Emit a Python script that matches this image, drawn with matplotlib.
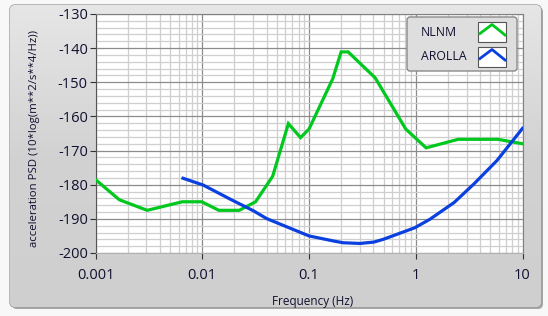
import matplotlib
matplotlib.use("Agg")
import matplotlib.pyplot as plt
import numpy as np
from matplotlib.patches import FancyBboxPatch, Rectangle
from matplotlib.colors import LinearSegmentedColormap
from matplotlib.ticker import FixedLocator, NullFormatter

plt.rcParams['font.family'] = ['Open Sans', 'DejaVu Sans']
plt.rcParams['axes.unicode_minus'] = False

# NLNM curve (Hz, dB)
nlnm_f = [0.001, 0.00167, 0.00305, 0.0065, 0.0099, 0.0143, 0.0222, 0.0316,
          0.0457, 0.0641, 0.0833, 0.1, 0.1667, 0.2, 0.2326, 0.417, 0.806,
          1.25, 2.5, 5.88, 10]
nlnm_db = [-178.5, -184.4, -187.5, -185.0, -185.0, -187.5, -187.5, -185.0,
           -177.5, -162.1, -166.2, -163.7, -149.0, -141.1, -141.1, -148.7,
           -163.7, -169.2, -166.7, -166.7, -168.0]

# AROLLA station curve
arolla_f = [0.0066, 0.0102, 0.0182, 0.030, 0.040, 0.1, 0.171, 0.209, 0.30,
            0.405, 0.496, 0.98, 1.36, 2.29, 3.5, 5.77, 10]
arolla_db = [-178.1, -180.1, -184.2, -187.6, -189.9, -195.0, -196.5, -197.0,
             -197.2, -196.8, -196.0, -192.6, -190.1, -185.2, -179.8, -172.9,
             -163.5]

y_ticks = [-200, -190, -180, -170, -160, -150, -140, -130]
x_ticks = [0.001, 0.01, 0.1, 1, 10]
x_labels = ["0.001", "0.01", "0.1", "1", "10"]

W, H = 548, 316
fig = plt.figure(figsize=(W / 100, H / 100), dpi=100, facecolor='#f8f8f8')

# grey LabVIEW-style panel behind the graph
bg = fig.add_axes([0, 0, 1, 1], zorder=0)
bg.set_xlim(0, W)
bg.set_ylim(H, 0)
bg.axis('off')
shadow = FancyBboxPatch((12, 7), 531, 302, boxstyle='round,pad=0,rounding_size=5',
                        fc='#a6a6a6', ec='none')
bg.add_patch(shadow)
panel = FancyBboxPatch((10, 5), 531, 302, boxstyle='round,pad=0,rounding_size=5',
                       fc='#d4d4d4', ec='#9c9c9c', lw=1)
bg.add_patch(panel)
cmap = LinearSegmentedColormap.from_list('pnl', ['#e6e6e6', '#d2d2d2', '#cfcfcf'])
im = bg.imshow(np.linspace(0, 1, 200).reshape(-1, 1), cmap=cmap, aspect='auto',
               extent=(10, 541, 307, 5), origin='upper', zorder=1)
im.set_clip_path(panel)

ax = fig.add_axes([95.5 / W, 1 - 253 / H, 427 / W, 239 / H], zorder=2)
ax.set_facecolor('white')
ax.plot(nlnm_f, nlnm_db, color='#00c81e', lw=2.3, solid_joinstyle='miter', zorder=3)
ax.plot(arolla_f, arolla_db, color='#0a3fe0', lw=2.3, zorder=3)
ax.set_xscale('log')
ax.set_xlim(0.001, 10)
ax.set_ylim(-200, -130)

ax.xaxis.set_major_locator(FixedLocator(x_ticks))
ax.set_xticklabels(x_labels)
minors = [m * d for d in x_ticks[:-1] for m in range(2, 10)]
ax.xaxis.set_minor_locator(FixedLocator(minors))
ax.xaxis.set_minor_formatter(NullFormatter())
ax.set_yticks(y_ticks)
ax.yaxis.set_minor_locator(FixedLocator(np.arange(-200, -129, 2)))

ax.grid(which='minor', color='#cfcfcf', lw=0.9, zorder=1)
ax.grid(which='major', color='#8c8c8c', lw=0.9, zorder=2)
ax.set_axisbelow(True)
ax.tick_params(which='minor', length=0)
ax.tick_params(which='major', direction='out', length=4.5, width=0.8, color='#333333',
               labelsize=10.5, labelcolor='#101030')
ax.tick_params(axis='x', pad=6)
ax.tick_params(axis='y', pad=1)

for s in ['top', 'right']:
    ax.spines[s].set_color('#808080')
ax.spines['left'].set_color('#555555')
ax.spines['bottom'].set_color('#b0b0b0')

ax.set_xlabel("Frequency (Hz)", fontsize=8.5, color='#101030')
ax.xaxis.set_label_coords(0.509, -0.176)
ax.set_ylabel("acceleration PSD (10*log(m**2/s**4/Hz))", fontsize=8.2, color='#101030')
ax.yaxis.set_label_coords(-0.13, 0.48)

# legend box, drawn by hand to mimic the LabVIEW plot legend
lg = fig.add_axes([0, 0, 1, 1], zorder=5)
lg.set_xlim(0, W)
lg.set_ylim(H, 0)
lg.axis('off')
lg.patch.set_alpha(0)
lg.add_patch(FancyBboxPatch((407, 17), 110, 54, boxstyle='round,pad=0,rounding_size=3',
                            fc='#dedede', ec='#8a8a8a', lw=1))
names = ["NLNM", "AROLLA"]
colors = ['#00c81e', '#0a3fe0']
for i, (name, c) in enumerate(zip(names, colors)):
    y0 = 22 + 25 * i
    lg.text(421, y0 + 10, name, fontsize=8.8, color='#101030', va='center', ha='left')
    lg.add_patch(Rectangle((478, y0), 28, 20, fc='white', ec='#555555', lw=0.8))
    lg.plot([480, 492, 505], [y0 + 11.5, y0 + 2.5, y0 + 13], color=c, lw=2, clip_on=False)

fig.savefig("out.png", dpi=100, facecolor=fig.get_facecolor())
